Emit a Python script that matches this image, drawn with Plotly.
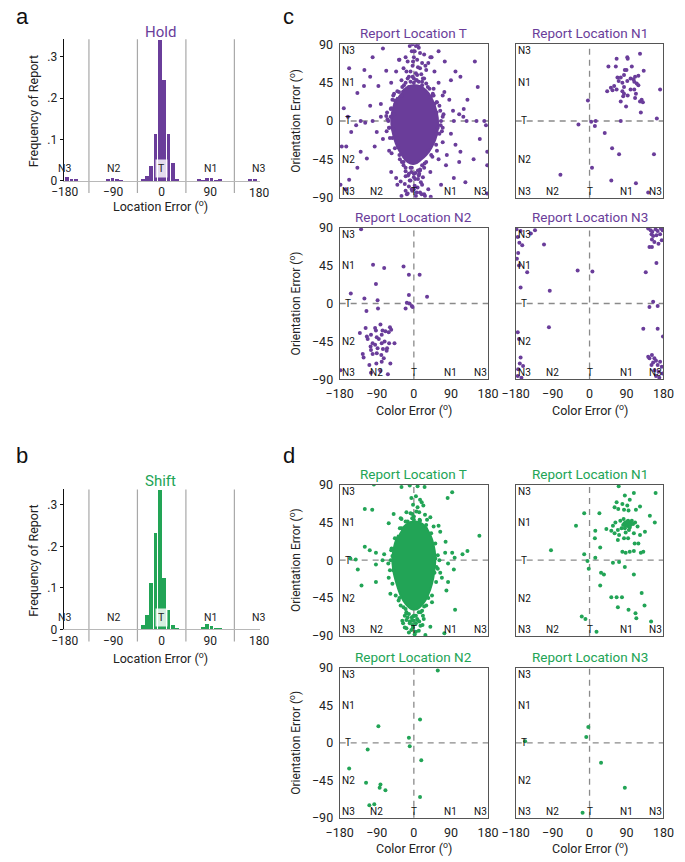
import plotly.graph_objects as go

W, H = 685, 862
FONT = "Liberation Sans Narrow, Roboto, Liberation Sans, sans-serif"
PURPLE = "#6a3d9a"
GREEN = "#22a456"

# ---------------- data ----------------
hold_bins = [-176, -168, -160, -100, -92, -84, -76, -36, -28, -20, -12, -4, 4, 12, 20, 28,
             68, 76, 84, 92, 100, 108, 164, 172]
hold_freq = [0.009, 0.003, 0.004, 0.002, 0.006, 0.003, 0.001, 0.003, 0.012, 0.035, 0.112, 0.34,
             0.243, 0.112, 0.042, 0.004, 0.002, 0.001, 0.006, 0.006, 0.001, 0.002, 0.002, 0.004]

shift_bins = [-36, -28, -20, -12, -4, 4, 12, 20, 28, 76, 84, 92, 100, 108]
shift_freq = [0.01, 0.033, 0.11, 0.23, 0.335, 0.124, 0.045, 0.01, 0.002, 0.004, 0.012, 0.007, 0.003, 0.001]

hist_xticks = [-180, -90, 0, 90]
hist_xticktext = ["\u2212180", "\u221290", "0", "90"]
hist_yticks = [0, 0.1, 0.2, 0.3]
hist_yticktext = ["0", ".1", ".2", ".3"]
hist_labels = ["N3", "N2", "T", "N1", "N3"]
hist_label_pos = [-180, -90, 0, 90, 180]
bin_bounds = [-135, -45, 45, 135]

err_xticks = [-180, -90, 0, 90, 180]
err_yticks = [-90, -45, 0, 45, 90]
edge_y_labels = ["N3", "N1", "T", "N2", "N3"]
edge_y_pos = [90, 45, 0, -45, -90]
edge_x_labels = ["N2", "T", "N1", "N3"]
edge_x_pos = [-90, 0, 90, 180]

# Hold: report location T (purple) - dense core outline + individual points
cT_core_x = [-30, -15, 0, 15, 30, 42, 52, 58, 58, 52, 42, 30, 16, 4, -8, -20, -32, -44, -52, -55, -50, -40]
cT_core_y = [34, 40, 42, 41, 36, 28, 16, 4, -10, -22, -32, -40, -46, -50, -50, -46, -38, -26, -12, 2, 16, 28]
cT_x = [-10, 5, 12, -5, 15, -20, 25, 0, 8, -15, 20, -3, 10, -25, 30, -8, 5, 18, -12, 0, 25, -30, 12, 40, 35,
        -35, 2, -2, 28, -18, 15, 7, -20, 30, -28, 38, -40, 48, -52, 55,
        -157, -106, -86, -67, -121, -43, -36, 43, 50, 113, 148, 101, 74, 86, 121, 97, 128, 152, 171, 175,
        160, 178, 178, 101, 113, 78, 97, 66, -129, -114, -137, -157, -164, -152, -129, -118, -100, -90,
        -75, -67, -106, -137,
        -55, -80, -160, -140, -80, -60, -95, -60, -55, -40, -30, -15, -5, 5, 15, 25, 35, 20, -10, 10, -20,
        0, 15, -5, 25, -25, 40, 60, 80, 70, 90, 110, 125, 145, 120, 110, 95, 70, 60, 90, 130, 75, 60, -75,
        -120, -170, -175, -165, -45, -40, 50, 55, 45, -50, 65, -65, -43, -32, -20, -12, 0, 7, 19, 27, 41,
        -20, -8, 4, 15, -29, 30, -35, 45, -58, 68, -62, 70, -55, 62, -3, 10, -178, 178, 155, -100,
        -48, -50, 55, 58, 0, -12, 20, -25, 20, 35, -38, 40, -30,
        -56, -60, -52, -46, -34, -20, -6, 10, 26, 42, 54, 62, 66, 64, 56, 46, 34, 20, 6, -8, -24, -36, -46,
        -56, -64, -66, 70, 72, -12, 12, -3, 8, -15, 22, 48, -48, 56, -54, 0, -8,
        -14, 3, 17, -22, 9, -4, 13, -17, 22, 2]
cT_y = [88, 88, 86, 82, 80, 75, 78, 75, 72, 70, 68, 65, 63, 62, 60, 58, 56, 55, 52, 50, 50, 48, 46, 75, 68,
        72, 82, 70, 65, 58, 62, 48, 45, 44, 40, 38, 35, 30, 25, 22,
        62, 52, 41, 59, 41, 58, 72, 75, 58, 52, 70, 58, 34, 25, 14, 0, 0, 0, 0, -5,
        -21, -36, -52, -28, -36, -52, -67, -75, -36, -44, -55, -69, -30, -13, 0, -2, 0, -13,
        -21, 6, 18, 33,
        45, 20, 5, -5, 5, -8, -30, -35, -60, -75, -88, -85, -80, -88, -84, -86, -80, -75, -70, -68, -65,
        -62, -58, -55, -55, -52, -60, -45, -40, -25, -15, -48, -72, -45, 5, 8, 12, 30, 45, 48, 25, 70, 82, 85,
        60, 15, -30, -80, 20, -20, 20, -15, 30, 30, -5, 10, -67, -71, -82, -77, -80, -84, -86, -88, -89,
        -59, -55, -61, -57, -48, -48, -40, -42, -20, -12, 0, 5, 15, 18, 90, 90, -75, -85, 40, 75,
        8, -10, 10, -8, 45, 40, 42, -48, -52, -35, -30, 28, 30,
        5, -8, -20, -32, -45, -55, -60, -58, -50, -40, -28, -15, 0, 12, 22, 32, 40, 46, 48, 46, 42, 34, 24,
        14, 2, -12, -8, 8, -62, -64, 52, 54, 50, 50, 38, 32, -35, -38, -66, -70,
        -64, -68, -72, -74, -78, -82, -62, -86, -66, -76]

# Hold: report location N1
cN1_x = [66, 92, 93, 123, 46, 64, 86, 90, 103, 132, 68, 76, 84, 100, 107, 111, 119, 71, 80, 92, 109, 115,
         60, 52, 43, 56, 66, 80, 84, 100, 109, 113, 119, 84, 82, 93, 111, 123, 127, 130, 76, 89, 125, 172,
         -4, -27, 4, 15, 13, 76, 164, 37, 55, 72, 157, 6, -71, 53, 113, 143]
cN1_y = [73, 75, 73, 79, 64, 64, 60, 60, 64, 59, 51, 51, 54, 50, 49, 52, 53, 47, 45, 47, 46, 44,
         41, 39, 35, 36, 37, 35, 32, 37, 37, 32, 42, 40, 29, 30, 27, 23, 25, 22, 23, 17, 10, 37,
         24, -4, -1, 0, -6, 0, 3, -14, -32, -39, -39, -55, -63, -70, -73, -84]

# Hold: report location N2
cN2_x = [-128, -99, -72, -25, -12, 14, -92, -153, -120, -88, -12, 32, -17, -11, -5, -3, -20, -115, -87,
         -81, -94, -117, -131, -114, -104, -92, -76, -69, -58, -55, -61, -90, -85, -78, -71, -78, -100, -105,
         -94, -88, -75, -65, -60, -47, -124, -122, -104, -100, -90, -79, -66, -73, -108, -91, -78, -57,
         -104, -81, -63, -178, -112]
cN2_y = [88, 46, 42, 44, 34, 34, 23, 12, 6, 4, 10, 8, 1, 0, -3, -4, -6, -9, -6,
         -25, -29, -29, -35, -39, -37, -32, -32, -33, -28, -31, -34, -40, -42, -37, -45, -47, -47, -51,
         -49, -53, -54, -53, -47, -47, -60, -64, -55, -60, -59, -61, -56, -65, -73, -71, -69, -71,
         -82, -80, -84, -79, -42]

# Hold: report location N3
cN3_x = [-178, -168, -143, -133, -175, -171, -164, -174, -177, -172, -152, -111, -168, -97, -29, 7,
         143, 149, 153, 161, 166, 174, 178, 151, 155, 163, 172, 152, 158, 168, 176, 146, 152, 163, 137,
         155, 146, 166, 131, 166, 179,
         143, 146, 152, 158, 162, 155, 151, 166, 172, 176, 158, 168, 178, 170, 162,
         -175, -172, -168, -170, -162, -174, -175, -166, -99]
cN3_y = [88, 86, 83, 87, 79, 72, 69, 60, 53, 45, 37, 70, 19, 15, 39, 38,
         89, 87, 85, 88, 86, 89, 87, 82, 80, 81, 82, 76, 73, 71, 75, 67, 67, 48, 37,
         2, -4, -3, -30, -30, -39,
         -63, -65, -61, -65, -68, -70, -73, -73, -69, -75, -79, -81, -83, -88, -86,
         -34, -42, -64, -71, -74, -78, -86, -88, -28]

# Shift: report location T (green)
dT_core_x = [-28, -14, 0, 14, 28, 40, 48, 52, 50, 44, 34, 22, 8, -6, -20, -32, -42, -50, -52, -46, -38]
dT_core_y = [38, 44, 46, 45, 40, 30, 18, 4, -12, -28, -42, -52, -58, -58, -52, -42, -28, -12, 4, 20, 30]
dT_x = [-97, -30, -10, 9, 26, 93, 82, -6, 5, 15, 19, -2, 9, 23, -119, -101, -18, -4, 13, 27, -49, 40, -30,
        60, -61, 48, 64, 159, 77, -119, -107, -92, -141, -154, -76, -136, -92, -72, 76, 93, 99, 118, 130,
        83, 97, 64, 68, -127, -92, -61, 83, 79, -57, -37, 44, 100, -18, -2, 9, -10,
        -26, -18, -10, -3, 5, 13, 21, -18, -6, 5, 28, 40, 74,
        -52, 52, -50, 50, 0, -15, 15, -25, 25, -30, 30, -55, 55, 35, -35, -12, 12, -5, 5, -20, 20, 0,
        -56, -58, -52, -44, -32, -18, 0, 16, 30, 44, 54, 58, 58, 52, 42, 30, 14, -4, -20, -34, -46, -54,
        -62, 62, -8, 6, -22, 22, 0, -32, 32,
        -15, -5, 8, 16, -22, -12, 2, 12, -2, 24, -28]
dT_y = [90, 87, 89, 88, 87, 81, 74, 74, 76, 72, 69, 66, 63, 65, 61, 60, 57, 55, 57, 54, 55, 51, 49,
        41, 44, 40, 34, 29, 22, 16, 12, 9, 1, 2, 0, -11, -5, 7, 9, 9, 3, 7, 11,
        -4, -11, -15, -21, -30, -26, -21, -26, -36, -40, -48, -50, -59, -63, -67, -71, -75,
        -75, -71, -73, -77, -75, -73, -77, -81, -83, -85, -89, -79, -87,
        5, 2, -12, -15, 48, 46, 47, -56, -55, 38, 37, 12, -8, -45, -45, -64, -62, -68, -66, -58, -60, 52,
        0, -12, -28, -42, -54, -62, -66, -62, -54, -42, -26, -10, 6, 20, 32, 42, 48, 50, 46, 38, 26, 14,
        -4, 0, 56, 58, -66, -66, -72, 50, 48,
        -68, -72, -70, -78, -80, -86, -88, -84, -80, -70, -72]

# Shift: report location N1
dN1_x = [71, 86, 108, 161, 98, 66, 80, 92, 123, 61, 70, 84, 95, 113, 24, -13, 147, 159, -33, 57, 63, 75,
         83, 88, 94, 100, 106, 111, 117, 92, 96, 86, 78, 69, 53, 41, 61, 72, 88, 108, 123, 135, 94, 84,
         69, 110, 119, 14, 13, 26, -94, 80, 88, 98, 108, 125, 131, -13, 14, -5, 57, 72, 86, 108, -2, 28,
         35, 26, 127, 53, 66, 79, 69, 95, 134, 112, 114, -19, -10, 150, 17,
         90, 95, 100, 85, 92, 98, 88, 103, 82, 96]
dN1_y = [88, 77, 80, 80, 72, 69, 67, 65, 64, 63, 61, 60, 59, 60, 56, 56, 53, 45, 41, 41, 45, 47,
         49, 45, 47, 45, 43, 45, 40, 41, 40, 38, 38, 36, 35, 37, 32, 30, 33, 32, 30, 34, 26, 26,
         24, 20, 20, 35, 26, 15, 12, 10, 9, 10, 11, 9, 10, 7, 3, -1, -3, -2, -8, -17, -10, -15,
         -17, -30, -39, -44, -44, -44, -56, -59, -54, -63, -69, -67, -70, -73, -85,
         43, 44, 42, 44, 46, 39, 41, 47, 42, 36]

# Shift: report location N2
dN2_x = [58, 15, -86, -12, -10, -112, 18, -157, -116, -81, -83, -69, 15, -108, -96]
dN2_y = [87, 28, 20, 6, -4, -8, -21, -31, -48, -50, -54, -57, -65, -75, -74]

# Shift: report location N3
dN3_x = [-3, -8, -157, 28, 86, -17]
dN3_y = [19, 7, 2, -24, -54, -84]


# ---------------- helpers ----------------
def px(x):
    return x / W


def py(y):
    return 1 - y / H


def paper_text(text, x, y, size, color="#222", angle=0, family=FONT, xanchor="center"):
    return dict(text=text, x=px(x), y=py(y), xref="paper", yref="paper", xanchor=xanchor, yanchor="middle",
                showarrow=False, textangle=angle, font=dict(family=family, size=size, color=color))


LETTER_FONT = "Liberation Sans, Arial, sans-serif"
fig = go.Figure()
annotations = []
shapes = []

# ---------------- histograms ----------------
hist_specs = [
    dict(ax="", bins=hold_bins, freq=hold_freq, color=PURPLE, title="Hold",
         top=31.7, bottom=176.0, ymax=0.342, title_y=24, xlab_y=201, letter="a", letter_y=9),
    dict(ax="2", bins=shift_bins, freq=shift_freq, color=GREEN, title="Shift",
         top=490.0, bottom=632.5, ymax=0.337, title_y=481, xlab_y=662, letter="b", letter_y=455),
]
for s in hist_specs:
    ax = s["ax"]
    fig.add_trace(go.Bar(x=s["bins"], y=s["freq"], width=7.0, marker=dict(color=s["color"], line=dict(width=0)),
                         xaxis="x" + ax, yaxis="y" + ax, showlegend=False, hoverinfo="skip"))
    xa = dict(domain=[px(51.5), px(255)], range=[-182, 182], tickvals=hist_xticks, ticktext=hist_xticktext,
              showgrid=False, zeroline=False, showline=True, linecolor="#b8b8b8", linewidth=1,
              ticks="", tickfont=dict(family=FONT, size=12, color="#222"), anchor="y" + ax)
    ya = dict(domain=[py(s["bottom"]), py(s["top"])], range=[0, s["ymax"]], tickvals=hist_yticks,
              ticktext=hist_yticktext, showgrid=False, zeroline=False, showline=True, linecolor="#111",
              linewidth=1, ticks="outside", ticklen=3, tickcolor="#111",
              tickfont=dict(family=FONT, size=12, color="#222"), anchor="x" + ax)
    fig.update_layout(**{"xaxis" + ax: xa, "yaxis" + ax: ya})
    for b in bin_bounds:
        shapes.append(dict(type="line", xref="x" + ax, yref="y" + ax + " domain", x0=b, x1=b, y0=-0.085, y1=1,
                           line=dict(color="#a8a8a8", width=1.2), layer="below"))
    for lab, pos in zip(hist_labels, hist_label_pos):
        a = dict(text=lab, x=pos, y=0.03, xref="x" + ax, yref="y" + ax, showarrow=False,
                 font=dict(family=FONT, size=10.5, color="#222"), xanchor="center", yanchor="middle")
        if lab == "T":
            a.update(bgcolor="rgba(255,255,255,0.82)", borderpad=2)
        annotations.append(a)
    # 180 label sits beyond the last drawn tick of the axis
    annotations.append(dict(text="180", x=180, y=0, xref="x" + ax, yref="y" + ax, xanchor="center",
                            yanchor="top", yshift=-3, showarrow=False,
                            font=dict(family=FONT, size=12, color="#222")))
    annotations.append(paper_text(s["title"], 152.5, s["title_y"], 15, s["color"]))
    annotations.append(paper_text("Location Error (<sup>o</sup>)", 152.5, s["xlab_y"], 12.5))
    annotations.append(paper_text("Frequency of Report", 20, (s["top"] + s["bottom"]) / 2 + 1, 12.5, angle=-90))
    annotations.append(paper_text(s["letter"], 0, s["letter_y"], 22, "#111", family=LETTER_FONT, xanchor="left"))

# ---------------- scatter panels ----------------
colL = [338, 492]
colR = [520.7, 674]
rows = {"c1": [37, 193], "c2": [223.5, 378], "d1": [485, 639], "d2": [671.7, 824]}

scatter_specs = [
    (3, colL, "c1", "Report Location T", PURPLE, cT_x, cT_y, (cT_core_x, cT_core_y)),
    (4, colR, "c1", "Report Location N1", PURPLE, cN1_x, cN1_y, None),
    (5, colL, "c2", "Report Location N2", PURPLE, cN2_x, cN2_y, None),
    (6, colR, "c2", "Report Location N3", PURPLE, cN3_x, cN3_y, None),
    (7, colL, "d1", "Report Location T", GREEN, dT_x, dT_y, (dT_core_x, dT_core_y)),
    (8, colR, "d1", "Report Location N1", GREEN, dN1_x, dN1_y, None),
    (9, colL, "d2", "Report Location N2", GREEN, dN2_x, dN2_y, None),
    (10, colR, "d2", "Report Location N3", GREEN, dN3_x, dN3_y, None),
]

for i, col, row, title, color, xs, ys, core in scatter_specs:
    xn, yn = "x%d" % i, "y%d" % i
    top, bottom = rows[row]
    left_col = col is colL
    bottom_row = row in ("c2", "d2")
    if core is not None:
        fig.add_trace(go.Scatter(x=core[0], y=core[1], mode="lines", fill="toself", fillcolor=color,
                                 line=dict(color=color, width=2, shape="spline"), xaxis=xn, yaxis=yn,
                                 showlegend=False, hoverinfo="skip"))
    fig.add_trace(go.Scatter(x=xs, y=ys, mode="markers", marker=dict(color=color, size=4, line=dict(width=0)),
                             xaxis=xn, yaxis=yn, showlegend=False, hoverinfo="skip"))
    xa = dict(domain=[px(col[0]), px(col[1])], range=[-180, 180], showgrid=False, zeroline=False,
              showline=True, mirror=True, linecolor="#555", linewidth=1, ticks="", anchor=yn,
              tickvals=err_xticks, showticklabels=bottom_row, ticklabelstandoff=3,
              tickfont=dict(family=FONT, size=12.5, color="#222"))
    ya = dict(domain=[py(bottom), py(top)], range=[-90, 90], showgrid=False, zeroline=False,
              showline=True, mirror=True, linecolor="#555", linewidth=1, ticks="", anchor=xn,
              tickvals=err_yticks, showticklabels=left_col, ticklabelstandoff=3,
              tickfont=dict(family=FONT, size=12.5, color="#222"))
    fig.update_layout(**{"xaxis%d" % i: xa, "yaxis%d" % i: ya})
    shapes.append(dict(type="line", xref=xn, yref=yn + " domain", x0=0, x1=0, y0=0, y1=1,
                       line=dict(color="#8a8a8a", width=1.3, dash="6px,5px"), layer="below"))
    shapes.append(dict(type="line", xref=xn + " domain", yref=yn, x0=0, x1=1, y0=0, y1=0,
                       line=dict(color="#8a8a8a", width=1.3, dash="6px,5px"), layer="below"))
    lab_font = dict(family=FONT, size=10, color="#111")
    for lab, pos in zip(edge_y_labels, edge_y_pos):
        yanchor = "top" if pos == 90 else ("bottom" if pos == -90 else "middle")
        annotations.append(dict(text=lab, x=-180, y=pos, xref=xn, yref=yn, xanchor="left", yanchor=yanchor,
                                xshift=(4 if lab == "T" else 1), showarrow=False, font=lab_font, borderpad=0))
    for lab, pos in zip(edge_x_labels, edge_x_pos):
        xanchor = "right" if pos == 180 else "center"
        annotations.append(dict(text=lab, x=pos, y=-90, xref=xn, yref=yn, xanchor=xanchor, yanchor="bottom",
                                showarrow=False, font=lab_font, borderpad=0))
    annotations.append(dict(text=title, x=0.5, y=1, xref=xn + " domain", yref=yn + " domain", xanchor="center",
                            yanchor="bottom", yshift=1, showarrow=False,
                            font=dict(family=FONT, size=13.5, color=color)))
    if left_col:
        annotations.append(paper_text("Orientation Error (<sup>o</sup>)", 291.5, (top + bottom) / 2, 12,
                                      angle=-90))
    if bottom_row:
        annotations.append(paper_text("Color Error (<sup>o</sup>)", (col[0] + col[1]) / 2, bottom + 31, 12.5))

annotations.append(paper_text("c", 277, 9, 22, "#111", family=LETTER_FONT, xanchor="left"))
annotations.append(paper_text("d", 277, 455, 22, "#111", family=LETTER_FONT, xanchor="left"))

fig.update_layout(width=W, height=H, margin=dict(l=0, r=0, t=0, b=0), paper_bgcolor="white",
                  plot_bgcolor="white", bargap=0, showlegend=False, annotations=annotations, shapes=shapes,
                  font=dict(family=FONT, color="#222"))

fig.write_html("out.html", include_plotlyjs=True, config={"displayModeBar": False},
               post_script="document.body.style.margin='0';document.body.style.overflow='hidden';")
